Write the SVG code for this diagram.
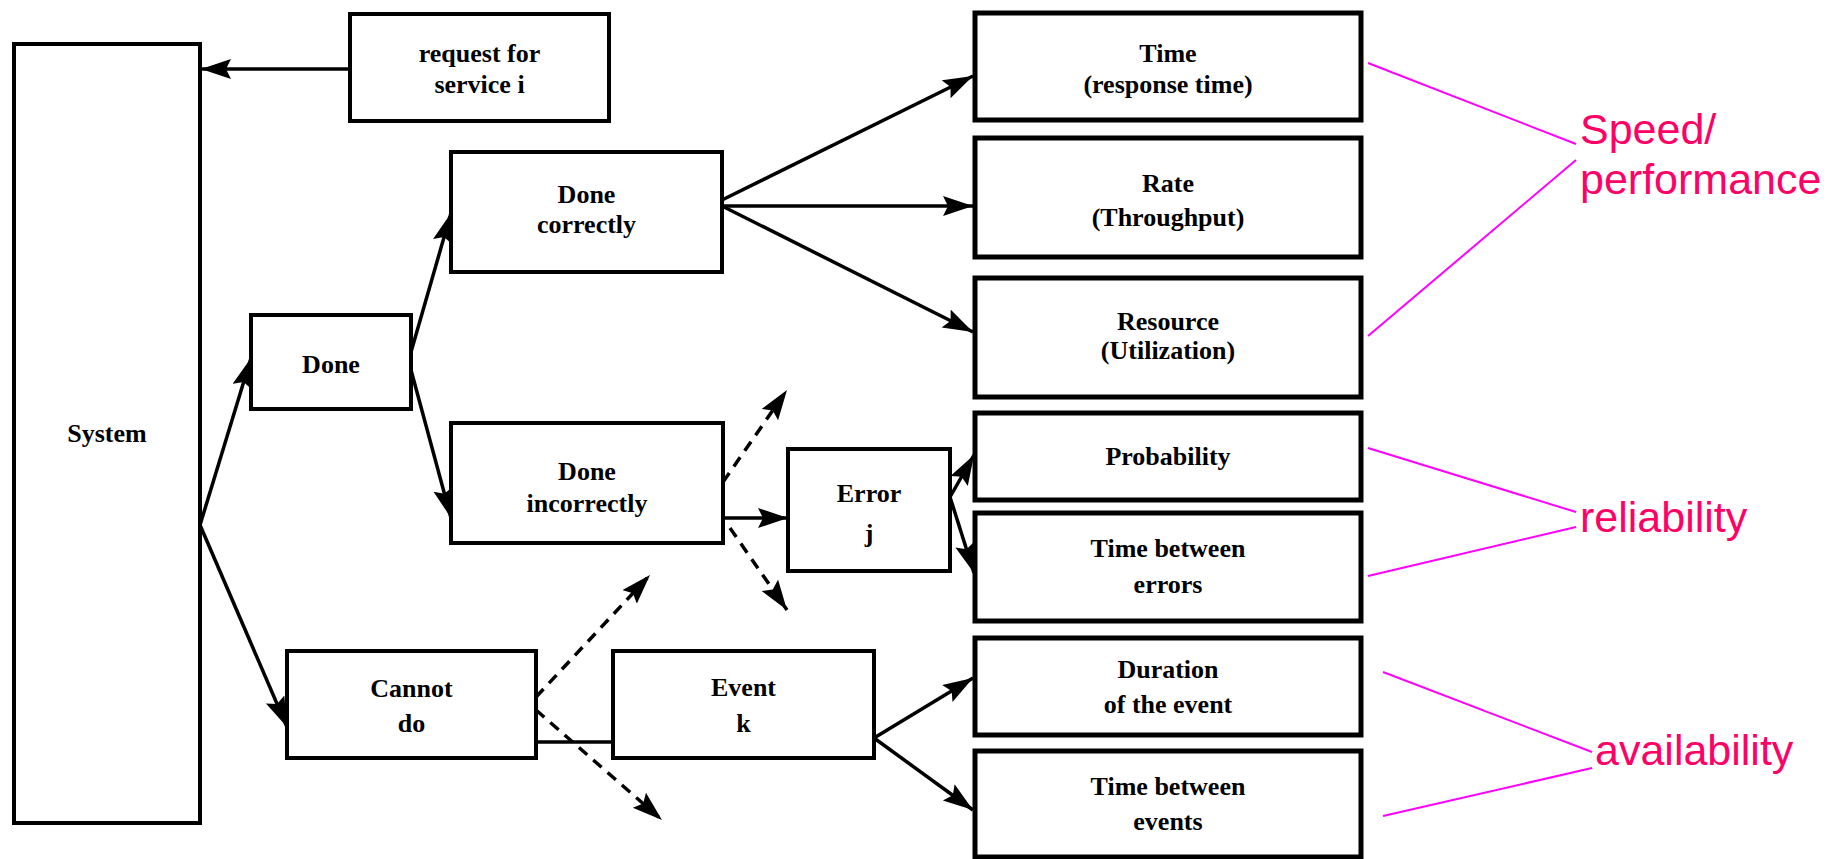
<svg xmlns="http://www.w3.org/2000/svg" width="1832" height="859" viewBox="0 0 1832 859">
<style>
.box{fill:#fff;stroke:#000;stroke-width:4}
.rbox{fill:#fff;stroke:#000;stroke-width:5}
.t{font-family:"Liberation Serif","Times New Roman",serif;font-weight:bold;font-size:26px;fill:#000;text-anchor:middle}
.c{stroke:#000;stroke-width:3.5;fill:none}
.a{marker-end:url(#ah)}
.d{stroke-dasharray:11 8}
.m{stroke:#ff00ff;stroke-width:2;fill:none}
.lbl{font-family:"Liberation Sans",Arial,sans-serif;font-size:43px;fill:#ff0066}
</style>
<defs>
<marker id="ah" markerUnits="userSpaceOnUse" markerWidth="32" markerHeight="22" refX="30" refY="10" orient="auto">
<path d="M0,0 L30,10 L0,20 L5,10 Z" fill="#000"/>
</marker>
</defs>
<rect x="0" y="0" width="1832" height="859" fill="#fff"/>
<g id="connectors">
<line class="c a" x1="350" y1="69" x2="201" y2="69"/>
<line class="c a" x1="200" y1="525" x2="251" y2="358"/>
<line class="c a" x1="200" y1="525" x2="287" y2="727"/>
<line class="c a" x1="411" y1="352" x2="451" y2="213"/>
<line class="c a" x1="411" y1="370" x2="451" y2="518"/>
<line class="c a" x1="722" y1="200" x2="973" y2="76"/>
<line class="c a" x1="722" y1="206" x2="973" y2="206"/>
<line class="c a" x1="722" y1="206" x2="973" y2="332"/>
<line class="c a" x1="723" y1="518" x2="788" y2="518"/>
<line class="c a d" x1="723" y1="482" x2="787" y2="390"/>
<line class="c a d" x1="730" y1="528" x2="787" y2="610"/>
<line class="c a" x1="950" y1="497" x2="974" y2="455"/>
<line class="c a" x1="950" y1="497" x2="974" y2="573"/>
<line class="c" x1="536" y1="742" x2="613" y2="742"/>
<line class="c a d" x1="536" y1="697" x2="650" y2="575"/>
<line class="c a d" x1="536" y1="710" x2="662" y2="820"/>
<line class="c a" x1="874" y1="738" x2="973" y2="678"/>
<line class="c a" x1="874" y1="738" x2="973" y2="810"/>
</g>
<g id="system"><rect class="box" x="14" y="44" width="186" height="779"/><text class="t" x="107" y="442">System</text></g>
<g id="request"><rect class="box" x="350" y="14" width="259" height="107"/><text class="t" x="479.5" y="62">request for</text><text class="t" x="479.5" y="93">service i</text></g>
<g id="done"><rect class="box" x="251" y="315" width="160" height="94"/><text class="t" x="331" y="373">Done</text></g>
<g id="done-correctly"><rect class="box" x="451" y="152" width="271" height="120"/><text class="t" x="586.5" y="203">Done</text><text class="t" x="586.5" y="233">correctly</text></g>
<g id="done-incorrectly"><rect class="box" x="451" y="423" width="272" height="120"/><text class="t" x="587" y="480">Done</text><text class="t" x="587" y="512">incorrectly</text></g>
<g id="cannot-do"><rect class="box" x="287" y="651" width="249" height="107"/><text class="t" x="411.5" y="697">Cannot</text><text class="t" x="411.5" y="732">do</text></g>
<g id="error"><rect class="box" x="788" y="449" width="162" height="122"/><text class="t" x="869" y="502">Error</text><text class="t" x="869" y="542">j</text></g>
<g id="event"><rect class="box" x="613" y="651" width="261" height="107"/><text class="t" x="743.5" y="696">Event</text><text class="t" x="743.5" y="732">k</text></g>
<g id="time"><rect class="rbox" x="975" y="13" width="386" height="107"/><text class="t" x="1168" y="62">Time</text><text class="t" x="1168" y="93">(response time)</text></g>
<g id="rate"><rect class="rbox" x="975" y="138" width="386" height="119"/><text class="t" x="1168" y="192">Rate</text><text class="t" x="1168" y="226">(Throughput)</text></g>
<g id="resource"><rect class="rbox" x="975" y="278" width="386" height="119"/><text class="t" x="1168" y="330">Resource</text><text class="t" x="1168" y="359">(Utilization)</text></g>
<g id="probability"><rect class="rbox" x="975" y="413" width="386" height="87"/><text class="t" x="1168" y="465">Probability</text></g>
<g id="time-between-errors"><rect class="rbox" x="975" y="513" width="386" height="108"/><text class="t" x="1168" y="557">Time between</text><text class="t" x="1168" y="593">errors</text></g>
<g id="duration"><rect class="rbox" x="975" y="638" width="386" height="97"/><text class="t" x="1168" y="678">Duration</text><text class="t" x="1168" y="713">of the event</text></g>
<g id="time-between-events"><rect class="rbox" x="975" y="751" width="386" height="106"/><text class="t" x="1168" y="795">Time between</text><text class="t" x="1168" y="830">events</text></g>
<g id="annotations">
<line class="m" x1="1368" y1="63" x2="1576" y2="144"/>
<line class="m" x1="1368" y1="336" x2="1576" y2="160"/>
<line class="m" x1="1368" y1="448" x2="1576" y2="512"/>
<line class="m" x1="1368" y1="576" x2="1576" y2="527"/>
<line class="m" x1="1383" y1="672" x2="1592" y2="752"/>
<line class="m" x1="1383" y1="816" x2="1592" y2="768"/>
<text class="lbl" x="1580" y="144">Speed/</text>
<text class="lbl" x="1580" y="194">performance</text>
<text class="lbl" x="1580" y="532">reliability</text>
<text class="lbl" x="1595" y="765">availability</text>
</g>
</svg>
